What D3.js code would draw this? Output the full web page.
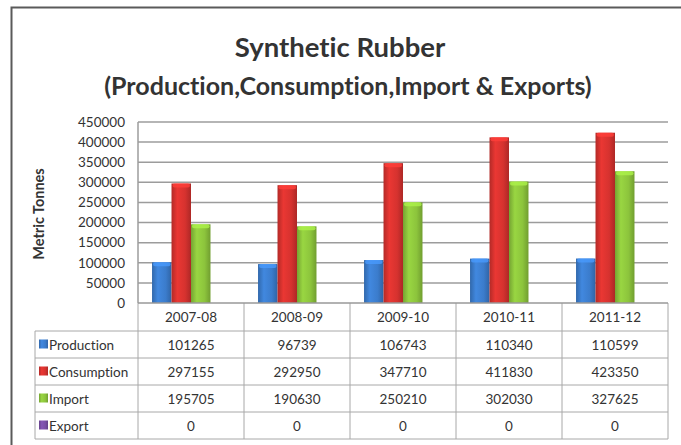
<!DOCTYPE html>
<meta charset="utf-8">
<style>
body { margin: 0; background: #fff; }
svg text { font-family: Lato, "Open Sans", sans-serif; fill: #333; font-variant-ligatures: none; }
.grid line { stroke: #9c9c9c; stroke-width: 1.5; }
.tbl line { stroke: #a8a8a8; stroke-width: 1; }
</style>
<div id="chart"></div>
<script src="https://d3js.org/d3.v7.min.js"></script>
<script>
var years = ["2007-08", "2008-09", "2009-10", "2010-11", "2011-12"];
var seriesNames = ["Production", "Consumption", "Import", "Export"];
var production = [101265, 96739, 106743, 110340, 110599];
var consumption = [297155, 292950, 347710, 411830, 423350];
var imports = [195705, 190630, 250210, 302030, 327625];
var exports = [0, 0, 0, 0, 0];
var yTicks = [0, 50000, 100000, 150000, 200000, 250000, 300000, 350000, 400000, 450000];
var colors = ["#3b7ccc", "#d6322f", "#8cc43c", "#7a4fa6"];

var values = [production, consumption, imports, exports];

var W = 681, H = 445;
var plotLeft = 138, plotRight = 668, plotTop = 122, zero = 303;
var labelLeft = 35, headH = 28, rowH = 27;

var svg = d3.select("#chart").append("svg").attr("width", W).attr("height", H);

// frame
svg.append("path").attr("d", "M11.5,446 V7.5 H690")
   .attr("fill", "none").attr("stroke", "#5a5a5a").attr("stroke-width", 2);

// gradients for the rounded bars
var defs = svg.append("defs");
colors.forEach(function(c, i) {
  var g = defs.append("linearGradient").attr("id", "g" + i).attr("x1", 0).attr("x2", 1);
  var col = d3.color(c);
  g.append("stop").attr("offset", "0%").attr("stop-color", col.darker(0.5));
  g.append("stop").attr("offset", "30%").attr("stop-color", col.brighter(0.25));
  g.append("stop").attr("offset", "70%").attr("stop-color", col);
  g.append("stop").attr("offset", "100%").attr("stop-color", col.darker(0.6));
});

// title
svg.append("text").attr("x", 340).attr("y", 57).attr("text-anchor", "middle")
   .attr("font-size", 27.5).attr("font-weight", "bold").text("Synthetic Rubber");
svg.append("text").attr("x", 348).attr("y", 95).attr("text-anchor", "middle")
   .attr("font-size", 25).attr("font-weight", "bold")
   .text("(Production,Consumption,Import & Exports)");

var x0 = d3.scaleBand().domain(years).range([plotLeft, plotRight]);
var x1 = d3.scaleBand().domain(seriesNames).range([0, x0.bandwidth()]).paddingOuter(0.72);
var y = d3.scaleLinear().domain([0, 450000]).range([zero, plotTop]);

// gridlines
svg.append("g").attr("class", "grid").selectAll("line")
   .data(yTicks.filter(function(d) { return d > 0; }))
   .enter().append("line")
   .attr("x1", plotLeft).attr("x2", plotRight)
   .attr("y1", function(d) { return y(d); }).attr("y2", function(d) { return y(d); });
svg.append("line").attr("x1", plotLeft).attr("x2", plotLeft).attr("y1", plotTop).attr("y2", zero)
   .attr("stroke", "#9c9c9c").attr("stroke-width", 1.5);

// y axis labels
var yAxis = svg.append("g").attr("transform", "translate(" + (plotLeft - 10) + ",0)")
   .call(d3.axisLeft(y).tickValues(yTicks).tickSize(0).tickFormat(d3.format("d")));
yAxis.select(".domain").remove();
yAxis.selectAll("text").attr("font-size", 13.5).attr("fill", "#333")
   .style("font-family", "Lato, sans-serif");

svg.append("text").attr("transform", "translate(44,214) rotate(-90)")
   .attr("text-anchor", "middle").attr("font-size", 14.5).attr("font-weight", "bold")
   .text("Metric Tonnes");

// bars
seriesNames.forEach(function(s, i) {
  var g = svg.append("g");
  g.selectAll("rect.bar").data(values[i]).enter().append("rect")
   .attr("class", "bar")
   .attr("x", function(d, j) { return x0(years[j]) + x1(s); })
   .attr("y", function(d) { return y(d); })
   .attr("width", x1.bandwidth())
   .attr("height", function(d) { return zero - y(d); })
   .attr("fill", "url(#g" + i + ")");
  // light top cap
  g.selectAll("rect.cap").data(values[i]).enter().append("rect")
   .attr("class", "cap")
   .attr("x", function(d, j) { return x0(years[j]) + x1(s) + 1; })
   .attr("y", function(d) { return y(d); })
   .attr("width", x1.bandwidth() - 2)
   .attr("height", function(d) { return d > 0 ? 4 : 0; }).attr("rx", 2)
   .attr("fill", d3.color(colors[i]).brighter(0.6)).attr("opacity", 0.8);
});

// data table
var tbl = svg.append("g").attr("class", "tbl");
var tableBottom = zero + headH + rowH * seriesNames.length;
var colEdges = years.map(function(d) { return x0(d); }).concat([plotRight]);
colEdges.forEach(function(xe) {
  tbl.append("line").attr("x1", xe).attr("x2", xe).attr("y1", zero).attr("y2", tableBottom);
});
tbl.append("line").attr("x1", labelLeft).attr("x2", labelLeft)
   .attr("y1", zero + headH).attr("y2", tableBottom);
tbl.append("line").attr("x1", plotLeft).attr("x2", plotRight).attr("y1", zero).attr("y2", zero)
   .style("stroke", "#999").style("stroke-width", 1.5);
seriesNames.forEach(function(s, i) {
  var yy = zero + headH + rowH * i;
  tbl.append("line").attr("x1", labelLeft).attr("x2", plotRight).attr("y1", yy).attr("y2", yy);
});
tbl.append("line").attr("x1", labelLeft).attr("x2", plotRight).attr("y1", tableBottom).attr("y2", tableBottom);

svg.selectAll(".yearLabel").data(years).enter().append("text")
   .attr("x", function(d) { return x0(d) + x0.bandwidth() / 2; })
   .attr("y", zero + headH / 2 + 5)
   .attr("text-anchor", "middle").attr("font-size", 13.5).text(function(d) { return d; });

seriesNames.forEach(function(s, i) {
  var cy = zero + headH + rowH * i + rowH / 2;
  svg.append("rect").attr("x", labelLeft + 4).attr("y", cy - 5).attr("width", 9).attr("height", 9)
     .attr("fill", "url(#g" + i + ")");
  svg.append("text").attr("x", labelLeft + 14).attr("y", cy + 5)
     .attr("font-size", 13.5).text(s);
  svg.selectAll(".v" + i).data(values[i]).enter().append("text")
     .attr("x", function(d, j) { return x0(years[j]) + x0.bandwidth() / 2; })
     .attr("y", cy + 5).attr("text-anchor", "middle").attr("font-size", 13.5)
     .text(function(d) { return d; });
});
</script>
